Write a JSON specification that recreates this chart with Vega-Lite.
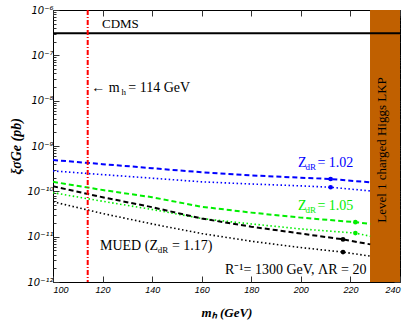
{
  "$schema": "https://vega.github.io/schema/vega-lite/v6.json",
  "width": 347,
  "height": 272,
  "autosize": {"type": "none"},
  "padding": {"left": 53, "top": 10, "right": 8, "bottom": 45},
  "config": {
    "view": {"stroke": "#000000", "strokeWidth": 1},
    "axis": {"grid": false, "domain": false, "zindex": 1, "tickColor": "#333333", "tickWidth": 1}
  },
  "datasets": {
    "band": [{"m": 227.9, "m2": 240, "xs": 1e-12, "xs2": 1e-6, "label": "Level 1 charged Higgs LKP"}],
    "curves": [
      {"m": 100, "xs": 4.90e-10, "grp": "Z_dR = 1.02", "curve": "dashed"},
      {"m": 120, "xs": 3.98e-10, "grp": "Z_dR = 1.02", "curve": "dashed"},
      {"m": 140, "xs": 3.24e-10, "grp": "Z_dR = 1.02", "curve": "dashed"},
      {"m": 160, "xs": 2.63e-10, "grp": "Z_dR = 1.02", "curve": "dashed"},
      {"m": 180, "xs": 2.24e-10, "grp": "Z_dR = 1.02", "curve": "dashed"},
      {"m": 200, "xs": 2.00e-10, "grp": "Z_dR = 1.02", "curve": "dashed"},
      {"m": 212, "xs": 1.87e-10, "grp": "Z_dR = 1.02", "curve": "dashed"},
      {"m": 228, "xs": 1.58e-10, "grp": "Z_dR = 1.02", "curve": "dashed"},
      {"m": 100, "xs": 2.82e-10, "grp": "Z_dR = 1.02", "curve": "dotted"},
      {"m": 120, "xs": 2.34e-10, "grp": "Z_dR = 1.02", "curve": "dotted"},
      {"m": 140, "xs": 1.95e-10, "grp": "Z_dR = 1.02", "curve": "dotted"},
      {"m": 160, "xs": 1.62e-10, "grp": "Z_dR = 1.02", "curve": "dotted"},
      {"m": 180, "xs": 1.45e-10, "grp": "Z_dR = 1.02", "curve": "dotted"},
      {"m": 200, "xs": 1.32e-10, "grp": "Z_dR = 1.02", "curve": "dotted"},
      {"m": 212, "xs": 1.23e-10, "grp": "Z_dR = 1.02", "curve": "dotted"},
      {"m": 228, "xs": 1.02e-10, "grp": "Z_dR = 1.02", "curve": "dotted"},
      {"m": 100, "xs": 1.62e-10, "grp": "Z_dR = 1.05", "curve": "dashed"},
      {"m": 120, "xs": 1.07e-10, "grp": "Z_dR = 1.05", "curve": "dashed"},
      {"m": 140, "xs": 7.41e-11, "grp": "Z_dR = 1.05", "curve": "dashed"},
      {"m": 160, "xs": 4.57e-11, "grp": "Z_dR = 1.05", "curve": "dashed"},
      {"m": 180, "xs": 3.39e-11, "grp": "Z_dR = 1.05", "curve": "dashed"},
      {"m": 200, "xs": 2.63e-11, "grp": "Z_dR = 1.05", "curve": "dashed"},
      {"m": 222, "xs": 2.09e-11, "grp": "Z_dR = 1.05", "curve": "dashed"},
      {"m": 228, "xs": 1.91e-11, "grp": "Z_dR = 1.05", "curve": "dashed"},
      {"m": 100, "xs": 9.33e-11, "grp": "Z_dR = 1.05", "curve": "dotted"},
      {"m": 120, "xs": 6.03e-11, "grp": "Z_dR = 1.05", "curve": "dotted"},
      {"m": 140, "xs": 3.98e-11, "grp": "Z_dR = 1.05", "curve": "dotted"},
      {"m": 160, "xs": 2.51e-11, "grp": "Z_dR = 1.05", "curve": "dotted"},
      {"m": 180, "xs": 1.91e-11, "grp": "Z_dR = 1.05", "curve": "dotted"},
      {"m": 200, "xs": 1.48e-11, "grp": "Z_dR = 1.05", "curve": "dotted"},
      {"m": 222, "xs": 1.20e-11, "grp": "Z_dR = 1.05", "curve": "dotted"},
      {"m": 228, "xs": 1.02e-11, "grp": "Z_dR = 1.05", "curve": "dotted"},
      {"m": 100, "xs": 1.29e-10, "grp": "MUED", "curve": "dashed"},
      {"m": 120, "xs": 7.41e-11, "grp": "MUED", "curve": "dashed"},
      {"m": 140, "xs": 4.47e-11, "grp": "MUED", "curve": "dashed"},
      {"m": 160, "xs": 2.51e-11, "grp": "MUED", "curve": "dashed"},
      {"m": 180, "xs": 1.66e-11, "grp": "MUED", "curve": "dashed"},
      {"m": 200, "xs": 1.17e-11, "grp": "MUED", "curve": "dashed"},
      {"m": 217, "xs": 8.71e-12, "grp": "MUED", "curve": "dashed"},
      {"m": 228, "xs": 6.76e-12, "grp": "MUED", "curve": "dashed"},
      {"m": 100, "xs": 5.89e-11, "grp": "MUED", "curve": "dotted"},
      {"m": 120, "xs": 3.24e-11, "grp": "MUED", "curve": "dotted"},
      {"m": 140, "xs": 1.91e-11, "grp": "MUED", "curve": "dotted"},
      {"m": 160, "xs": 1.17e-11, "grp": "MUED", "curve": "dotted"},
      {"m": 180, "xs": 7.94e-12, "grp": "MUED", "curve": "dotted"},
      {"m": 200, "xs": 5.75e-12, "grp": "MUED", "curve": "dotted"},
      {"m": 217, "xs": 4.57e-12, "grp": "MUED", "curve": "dotted"},
      {"m": 228, "xs": 3.72e-12, "grp": "MUED", "curve": "dotted"}
    ],
    "dots": [
      {"m": 212, "xs": 1.87e-10, "grp": "Z_dR = 1.02"},
      {"m": 212, "xs": 1.23e-10, "grp": "Z_dR = 1.02"},
      {"m": 222, "xs": 2.09e-11, "grp": "Z_dR = 1.05"},
      {"m": 222, "xs": 1.20e-11, "grp": "Z_dR = 1.05"},
      {"m": 217, "xs": 8.71e-12, "grp": "MUED"},
      {"m": 217, "xs": 4.57e-12, "grp": "MUED"}
    ],
    "cdms": [{"xs": 3.06e-7, "grp": "CDMS"}],
    "lep": [{"m": 114, "grp": "LEP"}],
    "labels": [
      {"m": 119.77, "xs": 4.01e-7, "label": "CDMS", "grp": "CDMS", "role": "big"},
      {"m": 115.45, "xs": 1.553e-8, "label": "← m", "grp": "CDMS", "role": "main"},
      {"m": 127.6, "xs": 1.334e-8, "label": "h", "grp": "CDMS", "role": "sub"},
      {"m": 130.4, "xs": 1.553e-8, "label": "= 114 GeV", "grp": "CDMS", "role": "main"},
      {"m": 198.85, "xs": 3.494e-10, "label": "Z", "grp": "Z_dR = 1.02", "role": "main"},
      {"m": 201.85, "xs": 3.0e-10, "label": "dR", "grp": "Z_dR = 1.02", "role": "sub"},
      {"m": 206.7, "xs": 3.494e-10, "label": "= 1.02", "grp": "Z_dR = 1.02", "role": "main"},
      {"m": 198.85, "xs": 3.875e-11, "label": "Z", "grp": "Z_dR = 1.05", "role": "main"},
      {"m": 201.85, "xs": 3.325e-11, "label": "dR", "grp": "Z_dR = 1.05", "role": "sub"},
      {"m": 206.7, "xs": 3.875e-11, "label": "= 1.05", "grp": "Z_dR = 1.05", "role": "main"},
      {"m": 118.96, "xs": 5.08e-12, "label": "MUED (Z", "grp": "MUED", "role": "main"},
      {"m": 142.3, "xs": 4.37e-12, "label": "dR", "grp": "MUED", "role": "sub"},
      {"m": 148.0, "xs": 5.08e-12, "label": "= 1.17)", "grp": "MUED", "role": "main"},
      {"m": 169.39, "xs": 1.5e-12, "label": "R⁻¹= 1300 GeV, ΛR = 20", "grp": "MUED", "role": "main"}
    ]
  },
  "resolve": {"axis": {"x": "independent", "y": "independent"}},
  "layer": [
    {
      "data": {"name": "band"},
      "layer": [
        {
          "mark": {"type": "rect", "color": "#C06000"},
          "encoding": {
            "x": {"field": "m", "type": "quantitative", "scale": {"domain": [100, 240], "nice": false, "zero": false},
              "axis": {"orient": "top", "title": null, "labels": false,
                "values": [100,105,110,115,120,125,130,135,140,145,150,155,160,165,170,175,180,185,190,195,200,205,210,215,220,225,230,235,240],
                "tickSize": {"condition": {"test": "datum.value % 20 === 0", "value": -6}, "value": -3}}},
            "x2": {"field": "m2"},
            "y": {"field": "xs", "type": "quantitative", "scale": {"type": "log", "domain": [1e-12, 1e-6], "nice": false},
              "axis": {"orient": "right", "title": null, "labels": false,
                "values": [1e-12,2e-12,3e-12,4e-12,5e-12,6e-12,7e-12,8e-12,9e-12,1e-11,2e-11,3e-11,4e-11,5e-11,6e-11,7e-11,8e-11,9e-11,1e-10,2e-10,3e-10,4e-10,5e-10,6e-10,7e-10,8e-10,9e-10,1e-9,2e-9,3e-9,4e-9,5e-9,6e-9,7e-9,8e-9,9e-9,1e-8,2e-8,3e-8,4e-8,5e-8,6e-8,7e-8,8e-8,9e-8,1e-7,2e-7,3e-7,4e-7,5e-7,6e-7,7e-7,8e-7,9e-7,1e-6],
                "tickSize": {"condition": {"test": "abs(log(datum.value)/LN10 - round(log(datum.value)/LN10)) < 0.01", "value": -6}, "value": -3}}},
            "y2": {"field": "xs2"}
          }
        },
        {
          "mark": {"type": "text", "angle": 270, "font": "Liberation Serif", "fontSize": 13, "color": "#000000", "align": "center", "baseline": "middle"},
          "encoding": {
            "x": {"datum": 232.7, "type": "quantitative"},
            "y": {"datum": 8.17e-10, "type": "quantitative"},
            "text": {"field": "label"}
          }
        }
      ]
    },
    {
      "layer": [
        {
          "data": {"name": "curves"},
          "mark": {"type": "line", "clip": true},
          "encoding": {
            "x": {"field": "m", "type": "quantitative", "scale": {"domain": [100, 240], "nice": false, "zero": false},
              "axis": {"orient": "bottom", "title": "mₕ (GeV)", "titleFont": "Liberation Serif", "titleFontSize": 13, "titleFontStyle": "italic", "titleFontWeight": "bold", "titlePadding": 12,
                "labelFont": "Liberation Sans", "labelFontStyle": "italic", "labelFontSize": 9, "labelPadding": 9, "labelColor": "#000000",
                "values": [100,105,110,115,120,125,130,135,140,145,150,155,160,165,170,175,180,185,190,195,200,205,210,215,220,225,230,235,240],
                "labelExpr": "datum.value % 20 === 0 ? datum.label : ''",
                "tickSize": {"condition": {"test": "datum.value % 20 === 0", "value": -6}, "value": -3}}},
            "y": {"field": "xs", "type": "quantitative", "scale": {"type": "log", "domain": [1e-12, 1e-6], "nice": false},
              "axis": {"orient": "left", "title": "ξσGe (pb)", "titleFont": "Liberation Serif", "titleFontSize": 14, "titleFontStyle": "italic", "titleFontWeight": "bold", "titlePadding": 3,
                "labelFont": "DejaVu Sans", "labelFontStyle": "italic", "labelFontSize": 10, "labelPadding": 6, "labelColor": "#000000",
                "values": [1e-12,2e-12,3e-12,4e-12,5e-12,6e-12,7e-12,8e-12,9e-12,1e-11,2e-11,3e-11,4e-11,5e-11,6e-11,7e-11,8e-11,9e-11,1e-10,2e-10,3e-10,4e-10,5e-10,6e-10,7e-10,8e-10,9e-10,1e-9,2e-9,3e-9,4e-9,5e-9,6e-9,7e-9,8e-9,9e-9,1e-8,2e-8,3e-8,4e-8,5e-8,6e-8,7e-8,8e-8,9e-8,1e-7,2e-7,3e-7,4e-7,5e-7,6e-7,7e-7,8e-7,9e-7,1e-6],
                "labelExpr": "abs(log(datum.value)/LN10 - round(log(datum.value)/LN10)) > 0.01 ? '' : ['10⁻¹²','10⁻¹¹','10⁻¹⁰','10⁻⁹','10⁻⁸','10⁻⁷','10⁻⁶'][round(log(datum.value)/LN10) + 12]",
                "tickSize": {"condition": {"test": "abs(log(datum.value)/LN10 - round(log(datum.value)/LN10)) < 0.01", "value": -6}, "value": -3}}},
            "color": {"field": "grp", "type": "nominal", "legend": null,
              "scale": {"domain": ["Z_dR = 1.02", "Z_dR = 1.05", "MUED", "CDMS", "LEP"], "range": ["#0000ff", "#00ee00", "#000000", "#000000", "#ff0000"]}},
            "strokeDash": {"field": "curve", "type": "nominal", "legend": null,
              "scale": {"domain": ["dashed", "dotted"], "range": [[5, 3], [1.5, 2.5]]}},
            "strokeWidth": {"field": "curve", "type": "nominal", "legend": null,
              "scale": {"domain": ["dashed", "dotted"], "range": [2, 1.6]}}
          }
        },
        {
          "data": {"name": "dots"},
          "mark": {"type": "circle", "size": 22, "opacity": 1},
          "encoding": {
            "x": {"field": "m", "type": "quantitative"},
            "y": {"field": "xs", "type": "quantitative"},
            "color": {"field": "grp", "type": "nominal", "legend": null}
          }
        },
        {
          "data": {"name": "cdms"},
          "mark": {"type": "rule", "strokeWidth": 2},
          "encoding": {
            "y": {"field": "xs", "type": "quantitative"},
            "color": {"field": "grp", "type": "nominal", "legend": null}
          }
        },
        {
          "data": {"name": "lep"},
          "mark": {"type": "rule", "strokeWidth": 2, "strokeDash": [5, 2, 1, 2]},
          "encoding": {
            "x": {"field": "m", "type": "quantitative"},
            "color": {"field": "grp", "type": "nominal", "legend": null}
          }
        },
        {
          "data": {"name": "labels"},
          "transform": [{"filter": "datum.role === 'main'"}],
          "mark": {"type": "text", "font": "Liberation Serif", "fontSize": 14, "align": "left", "baseline": "alphabetic"},
          "encoding": {
            "x": {"field": "m", "type": "quantitative"},
            "y": {"field": "xs", "type": "quantitative"},
            "text": {"field": "label"},
            "color": {"field": "grp", "type": "nominal", "legend": null}
          }
        },
        {
          "data": {"name": "labels"},
          "transform": [{"filter": "datum.role === 'big'"}],
          "mark": {"type": "text", "font": "Liberation Serif", "fontSize": 13, "align": "left", "baseline": "alphabetic"},
          "encoding": {
            "x": {"field": "m", "type": "quantitative"},
            "y": {"field": "xs", "type": "quantitative"},
            "text": {"field": "label"},
            "color": {"field": "grp", "type": "nominal", "legend": null}
          }
        },
        {
          "data": {"name": "labels"},
          "transform": [{"filter": "datum.role === 'sub'"}],
          "mark": {"type": "text", "font": "Liberation Serif", "fontSize": 9, "align": "left", "baseline": "alphabetic"},
          "encoding": {
            "x": {"field": "m", "type": "quantitative"},
            "y": {"field": "xs", "type": "quantitative"},
            "text": {"field": "label"},
            "color": {"field": "grp", "type": "nominal", "legend": null}
          }
        }
      ]
    }
  ]
}
